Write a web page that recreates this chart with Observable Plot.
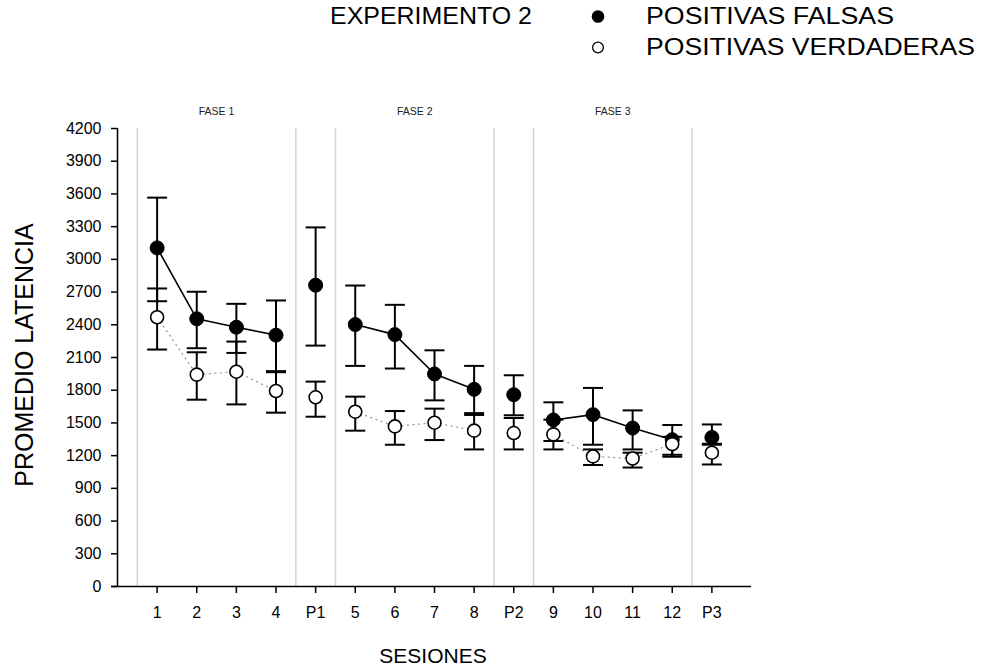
<!DOCTYPE html>
<html>
<head>
<meta charset="utf-8">
<script src="https://cdn.jsdelivr.net/npm/d3@7"></script>
<script src="https://cdn.jsdelivr.net/npm/@observablehq/plot@0.6"></script>
<style>
  body { margin: 0; background: #fff; font-family: "Liberation Sans", Arial, sans-serif; color: #000; }
  #wrap { position: relative; width: 987px; height: 669px; }
  #chart, #over { position: absolute; left: 0; top: 0; }
  #over { pointer-events: none; }
  #over text { font-family: "Liberation Sans", Arial, sans-serif; fill: #000; }
</style>
</head>
<body>
<div id="wrap">
  <div id="chart"></div>
  <svg id="over" width="987" height="669">
    <text x="330" y="24" font-size="23" textLength="202" lengthAdjust="spacingAndGlyphs">EXPERIMENTO 2</text>
    <circle cx="598" cy="16.5" r="6.3" fill="#000"></circle>
    <text x="646" y="24" font-size="23" textLength="248" lengthAdjust="spacingAndGlyphs">POSITIVAS FALSAS</text>
    <circle cx="598" cy="47.5" r="5.4" fill="#fff" stroke="#000" stroke-width="1.3"></circle>
    <text x="646" y="55" font-size="23" textLength="329" lengthAdjust="spacingAndGlyphs">POSITIVAS VERDADERAS</text>
    <text transform="translate(33,355) rotate(-90)" text-anchor="middle" font-size="25">PROMEDIO LATENCIA</text>
    <text x="433" y="663" text-anchor="middle" font-size="21">SESIONES</text>
  </svg>
</div>
<script>
// Sessions in order; P1–P3 are the probe sessions between phases
const sesiones = ["1", "2", "3", "4", "P1", "5", "6", "7", "8", "P2", "9", "10", "11", "12", "P3"];
// Phase of each session (0 = probe session, not joined by a line)
const fases = [1, 1, 1, 1, 0, 2, 2, 2, 2, 0, 3, 3, 3, 3, 0];
const nombresFase = ["FASE 1", "FASE 2", "FASE 3"];

// Mean latency, false positives (filled circles) with error-bar limits
const falsas     = [3105, 2455, 2378, 2305, 2763, 2402, 2310, 1949, 1808, 1759, 1527, 1576, 1453, 1346, 1367];
const falsasAlta = [3566, 2703, 2592, 2623, 3293, 2760, 2583, 2166, 2023, 1937, 1689, 1821, 1615, 1481, 1486];
const falsasBaja = [2616, 2185, 2142, 1975, 2209, 2023, 1999, 1707, 1573, 1570, 1334, 1300, 1257, 1208, 1309];

// Mean latency, true positives (open circles) with error-bar limits
const verdaderas = [2469, 1943, 1970, 1793, 1735, 1603, 1468, 1502, 1429, 1407, 1395, 1193, 1174, 1306, 1227];
const verdAlta   = [2733, 2148, 2246, 1965, 1879, 1741, 1609, 1631, 1590, 1545, 1530, 1257, 1227, 1373, 1300];
const verdBaja   = [2173, 1713, 1670, 1594, 1557, 1429, 1300, 1343, 1257, 1257, 1257, 1114, 1091, 1190, 1119];

const yTicks = d3.range(0, 4201, 300);

// Build tidy rows
const filas = [];
sesiones.forEach((s, i) => {
  filas.push({i, s, fase: fases[i], serie: "F", v: falsas[i], hi: falsasAlta[i], lo: falsasBaja[i]});
  filas.push({i, s, fase: fases[i], serie: "V", v: verdaderas[i], hi: verdAlta[i], lo: verdBaja[i]});
});
const F = filas.filter(d => d.serie === "F");
const V = filas.filter(d => d.serie === "V");

// Grey separators sit halfway between sessions whose phase changes (plus before the first one)
const separadores = [-0.5];
for (let i = 1; i < sesiones.length; i++) if (fases[i] !== fases[i - 1]) separadores.push(i - 0.5);
const ultimaFase = fases.lastIndexOf(3);
if (ultimaFase < sesiones.length - 1 && !separadores.includes(ultimaFase + 0.5)) separadores.push(ultimaFase + 0.5);

// Phase titles centred over their sessions
const titulosFase = nombresFase.map((t, k) => {
  const idx = fases.map((f, i) => f === k + 1 ? i : null).filter(i => i !== null);
  return {t, x: d3.mean(idx)};
});

// Horizontal cap for the error bars
const cap = {
  draw(ctx, size) {
    const r = Math.sqrt(size / Math.PI);
    ctx.moveTo(-r, 0);
    ctx.lineTo(r, 0);
  }
};

const chart = Plot.plot({
  width: 987,
  height: 669,
  marginLeft: 117,
  marginRight: 236,
  marginTop: 128,
  marginBottom: 83,
  style: {fontFamily: "Liberation Sans, Arial, sans-serif", background: "transparent", color: "#000"},
  x: {type: "linear", domain: [-1, 15]},
  y: {domain: [0, 4200]},
  marks: [
    Plot.ruleX(separadores, {y1: 0, y2: 4200, stroke: "#d4d4d4", strokeWidth: 1.5}),
    Plot.ruleX([-1], {y1: 0, y2: 4200, stroke: "#000", strokeWidth: 1.5}),
    Plot.ruleY([0], {x1: -1.15, x2: 15, stroke: "#000", strokeWidth: 1.5}),
    Plot.axisY({ticks: yTicks, tickFormat: d3.format("d"), tickSize: 6, tickPadding: 10, fontSize: 16, strokeWidth: 1.5, label: null}),
    Plot.axisX({ticks: d3.range(sesiones.length), tickFormat: i => sesiones[i], tickSize: 7, tickPadding: 13, fontSize: 16, strokeWidth: 1.5, label: null}),
    Plot.text(titulosFase, {x: "x", y: 4200, text: "t", dy: -17, fontSize: 10.5, fill: "#222"}),
    Plot.line(V.filter(d => d.fase > 0), {x: "i", y: "v", z: "fase", stroke: "#9a9a9a", strokeWidth: 1.3, strokeDasharray: "1,4.5"}),
    Plot.line(F.filter(d => d.fase > 0), {x: "i", y: "v", z: "fase", stroke: "#000", strokeWidth: 1.6}),
    Plot.ruleX(filas, {x: "i", y1: "lo", y2: "hi", stroke: "#000", strokeWidth: 2}),
    Plot.dot(filas, {x: "i", y: "hi", symbol: cap, r: 10, fill: "none", stroke: "#000", strokeWidth: 2}),
    Plot.dot(filas, {x: "i", y: "lo", symbol: cap, r: 10, fill: "none", stroke: "#000", strokeWidth: 2}),
    Plot.dot(F, {x: "i", y: "v", r: 7, fill: "#000", stroke: "#000", strokeWidth: 1}),
    Plot.dot(V, {x: "i", y: "v", r: 6.5, fill: "#fff", stroke: "#000", strokeWidth: 1.6})
  ]
});
document.getElementById("chart").appendChild(chart);
</script>
</body>
</html>
